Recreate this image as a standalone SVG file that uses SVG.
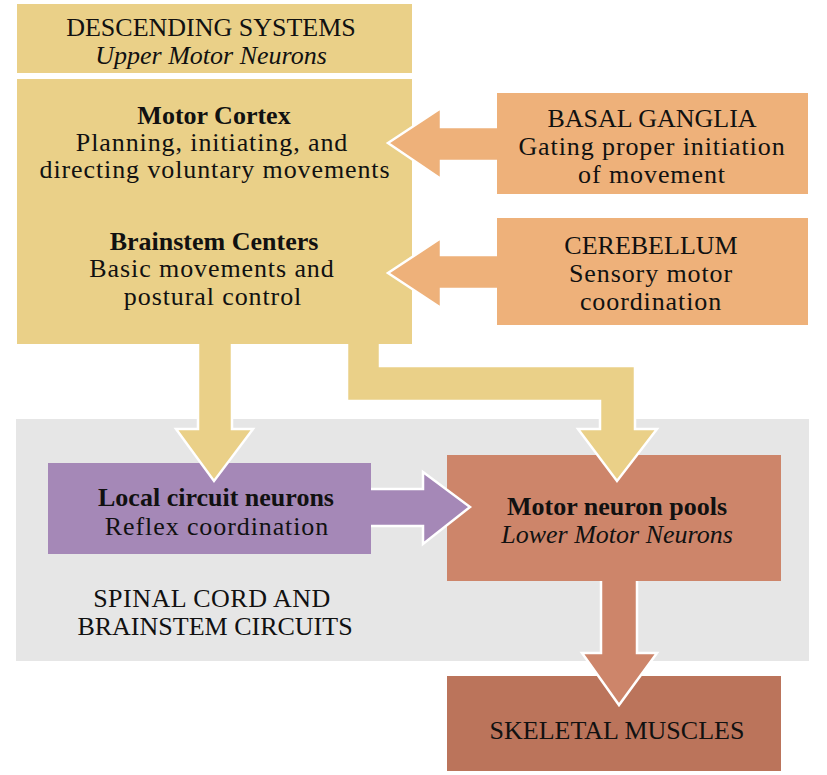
<svg xmlns="http://www.w3.org/2000/svg" width="827" height="775" viewBox="0 0 827 775">
<style>
text{font-family:"Liberation Serif","Times New Roman",serif;font-size:26px;fill:#111;text-anchor:middle}
.b{font-weight:bold}
.i{font-style:italic}
.r{letter-spacing:0.9px}
.yel{fill:#EAD088}
.org{fill:#EEB17A}
.pur{fill:#A588B7}
.mot{fill:#CD856A}
.skl{fill:#BB745B}
.edge{fill:none;stroke:#fff;stroke-width:2.5;stroke-linejoin:miter}
</style>
<rect x="0" y="0" width="827" height="775" fill="#fff"/>
<rect id="spinal-region" x="16" y="419" width="793" height="242" fill="#E6E6E6"/>
<g id="nodes">
<g id="descending">
<rect class="yel" x="17" y="4" width="395" height="69"/>
<text x="211" y="36">DESCENDING SYSTEMS</text>
<text class="i" x="211" y="64">Upper Motor Neurons</text>
</g>
<g id="motor-cortex-brainstem">
<rect class="yel" x="17" y="79" width="395" height="265"/>
<text class="b" x="214" y="124">Motor Cortex</text>
<text class="r" x="212" y="151">Planning, initiating, and</text>
<text class="r" x="215" y="178">directing voluntary movements</text>
<text class="b" x="214" y="250">Brainstem Centers</text>
<text class="r" x="212" y="277">Basic movements and</text>
<text class="r" x="213" y="305">postural control</text>
</g>
<g id="basal-ganglia">
<rect class="org" x="497" y="93" width="311" height="101"/>
<text x="652" y="127">BASAL GANGLIA</text>
<text class="r" x="652" y="155">Gating proper initiation</text>
<text class="r" x="652" y="183">of movement</text>
</g>
<g id="cerebellum">
<rect class="org" x="497" y="218" width="311" height="107"/>
<text x="651" y="254">CEREBELLUM</text>
<text class="r" x="651" y="282">Sensory motor</text>
<text class="r" x="651" y="310">coordination</text>
</g>
<g id="local-circuit">
<rect class="pur" x="48" y="463" width="323" height="91"/>
<text class="b" x="216" y="506">Local circuit neurons</text>
<text class="r" x="217" y="535">Reflex coordination</text>
</g>
<g id="motor-neuron-pools">
<rect class="mot" x="447" y="455" width="334" height="126"/>
<text class="b" x="617" y="515">Motor neuron pools</text>
<text class="i" x="617" y="543">Lower Motor Neurons</text>
</g>
<g id="spinal-label">
<text x="212" y="607" style="letter-spacing:0.5px">SPINAL CORD AND</text>
<text x="215" y="635">BRAINSTEM CIRCUITS</text>
</g>
<g id="skeletal-muscles">
<rect class="skl" x="447" y="676" width="334" height="95"/>
<text x="617" y="739">SKELETAL MUSCLES</text>
</g>
</g>
<g id="connectors">
<g id="basal-to-cortex">
<polygon class="org" points="497,127 441,127 441,108 388,143 441,179 441,161 497,161"/>
<polyline class="edge" points="497,127 441,127 441,108 388,143 441,179 441,161 497,161"/>
</g>
<g id="cerebellum-to-brainstem">
<polygon class="org" points="497,255 441,255 441,238 388,273 441,308 441,289 497,289"/>
<polyline class="edge" points="497,255 441,255 441,238 388,273 441,308 441,289 497,289"/>
</g>
<g id="descending-to-local">
<polygon class="yel" points="198,344 198,429 176,429 214,481 253,429 232,429 232,344"/>
<polyline class="edge" points="198,344 198,429 176,429 214,481 253,429 232,429 232,344"/>
</g>
<g id="descending-to-motor-pools">
<polygon class="yel" points="347,344 380,344 380,366 635,366 635,429 657,429 617,481 578,429 600,429 600,401 347,401"/>
<polyline class="edge" points="380,344 380,366 635,366 635,429 657,429 617,481 578,429 600,429 600,401 347,401 347,344"/>
</g>
<g id="local-to-motor-pools">
<polygon class="pur" points="371,489 423,489 423,472 470,507 423,544 423,526 371,526"/>
<polyline class="edge" points="371,489 423,489 423,472 470,507 423,544 423,526 371,526"/>
</g>
<g id="motor-pools-to-muscles">
<polygon class="mot" points="601,581 601,653 582,653 619,705 657,653 637,653 637,581"/>
<polyline class="edge" points="601,581 601,653 582,653 619,705 657,653 637,653 637,581"/>
</g>
</g>
</svg>
